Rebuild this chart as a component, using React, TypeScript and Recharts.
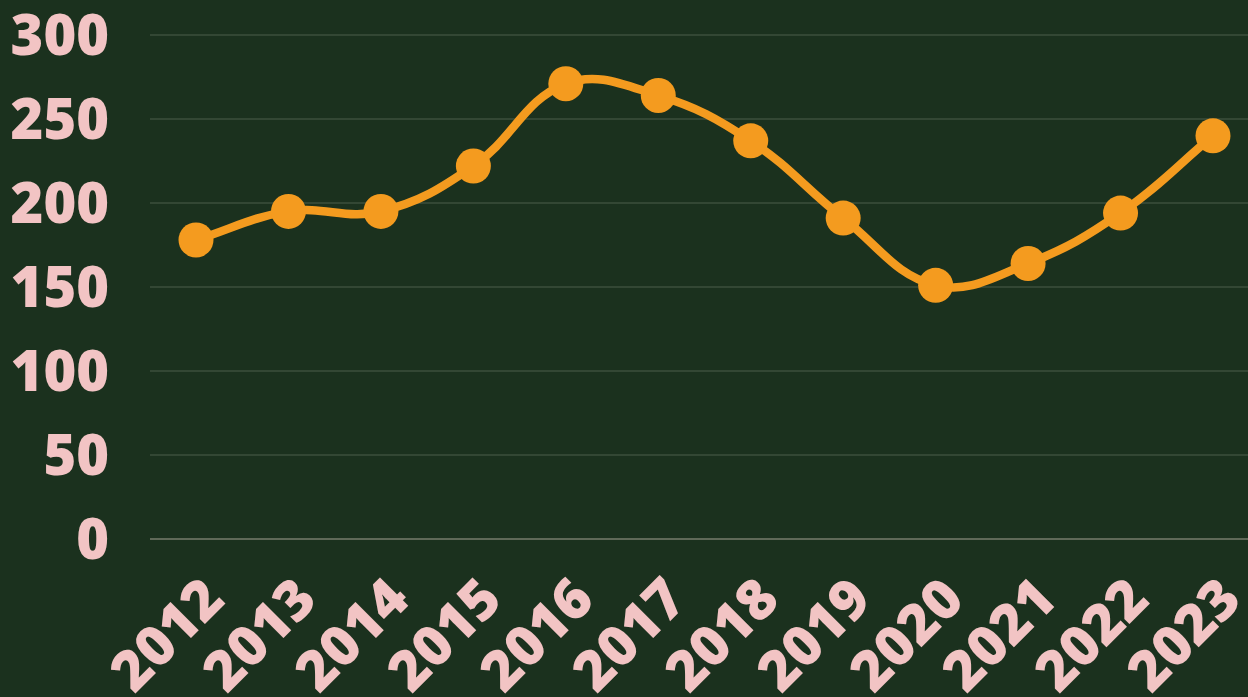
import React from "react";
import { LineChart, Line, XAxis, YAxis, CartesianGrid } from "recharts";

const years = ["2012", "2013", "2014", "2015", "2016", "2017", "2018", "2019", "2020", "2021", "2022", "2023"];
const values = [178, 195, 195, 222, 271, 264, 237, 191, 151, 164, 194, 240];
const yTicks = [0, 50, 100, 150, 200, 250, 300];

const data = years.map((year, i) => ({ year, value: values[i] }));

const BG = "#1b311e";
const PINK = "#f2c4c4";
const ORANGE = "#f49b1f";
const FONT = "'Open Sans', sans-serif";

// Chart.js-like spline (tension 0.4) as a curve factory
function splineCurve(context: any) {
  let pts: [number, number][] = [];
  const t = 0.4;
  return {
    areaStart() {},
    areaEnd() {},
    lineStart() {
      pts = [];
    },
    point(x: number, y: number) {
      pts.push([+x, +y]);
    },
    lineEnd() {
      const n = pts.length;
      if (!n) return;
      const cps = pts.map((cur, i) => {
        const prev = i > 0 ? pts[i - 1] : cur;
        const next = i < n - 1 ? pts[i + 1] : cur;
        const d01 = Math.hypot(cur[0] - prev[0], cur[1] - prev[1]);
        const d12 = Math.hypot(next[0] - cur[0], next[1] - cur[1]);
        let s01 = d01 / (d01 + d12);
        let s12 = d12 / (d01 + d12);
        if (isNaN(s01)) s01 = 0;
        if (isNaN(s12)) s12 = 0;
        const fa = t * s01;
        const fb = t * s12;
        return {
          prev: [cur[0] - fa * (next[0] - prev[0]), cur[1] - fa * (next[1] - prev[1])],
          next: [cur[0] + fb * (next[0] - prev[0]), cur[1] + fb * (next[1] - prev[1])],
        };
      });
      context.moveTo(pts[0][0], pts[0][1]);
      for (let i = 0; i < n - 1; i++) {
        const a = cps[i].next;
        const b = cps[i + 1].prev;
        context.bezierCurveTo(a[0], a[1], b[0], b[1], pts[i + 1][0], pts[i + 1][1]);
      }
    },
  };
}

const XTick = (props: any) => {
  const { x, y, payload } = props;
  const ax = x + 31;
  const ay = y + 63;
  return (
    <text
      x={ax}
      y={ay}
      transform={`rotate(-45, ${ax}, ${ay})`}
      textAnchor="end"
      fill={PINK}
      fontSize={56}
      fontWeight={800}
      fontFamily={FONT}
    >
      {payload.value}
    </text>
  );
};

export default function App() {
  return (
    <div
      style={{
        position: "fixed",
        left: 0,
        top: 0,
        width: 1248,
        height: 697,
        overflow: "hidden",
        background: BG,
      }}
    >
      <LineChart width={1260} height={697} data={data} margin={{ top: 35, right: 1, bottom: 0, left: 0 }}>
        <CartesianGrid
          vertical={false}
          stroke="#4c5f4b"
          strokeWidth={1}
          horizontalValues={yTicks}
        />
        <XAxis
          dataKey="year"
          scale="point"
          padding={{ left: 46, right: 46 }}
          height={158}
          axisLine={{ stroke: "#6f7565", strokeWidth: 1.5 }}
          tickLine={false}
          tickSize={0}
          tickMargin={0}
          interval={0}
          tick={<XTick />}
        />
        <YAxis
          domain={[0, 300]}
          ticks={yTicks}
          width={150}
          axisLine={false}
          tickLine={false}
          tickSize={0}
          tickMargin={41}
          interval={0}
          tick={{ fill: PINK, fontSize: 56, fontWeight: 800, fontFamily: FONT }}
        />
        <Line
          dataKey="value"
          type={splineCurve as any}
          stroke={ORANGE}
          strokeWidth={8.5}
          dot={{ r: 17.5, fill: ORANGE, stroke: "none" }}
          activeDot={false}
          isAnimationActive={false}
        />
      </LineChart>
    </div>
  );
}
